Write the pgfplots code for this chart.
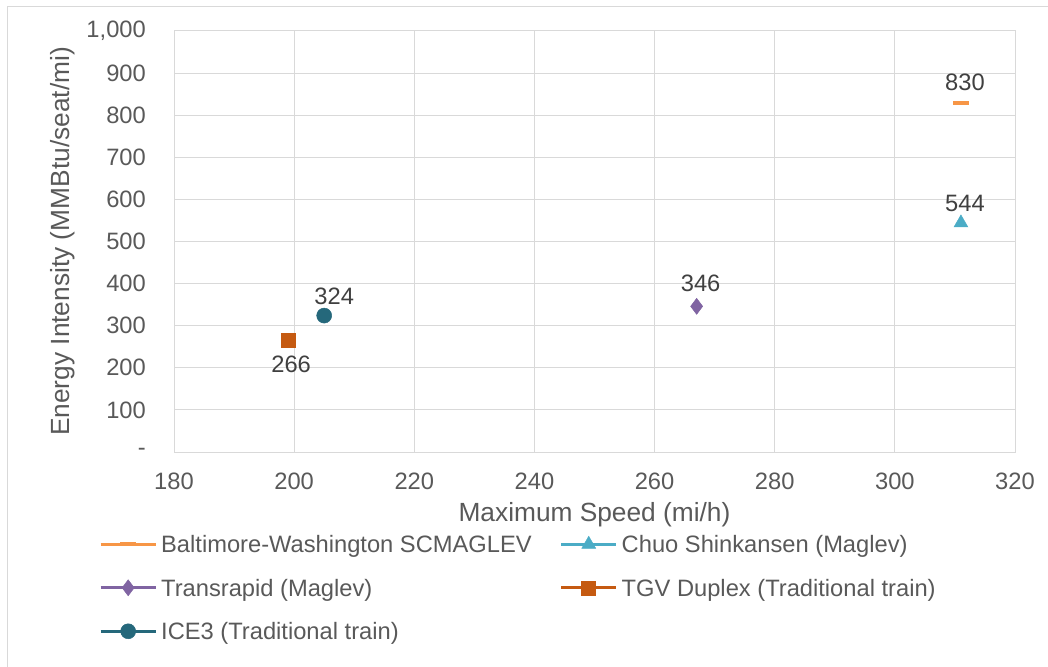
\documentclass[border=0pt]{standalone}
\usepackage{pgfplots}
\pgfplotsset{compat=1.18}
\usepackage{fontspec}
\setmainfont{Liberation Sans}
\definecolor{txt}{HTML}{595959}
\definecolor{lbl}{HTML}{404040}
\definecolor{gridc}{HTML}{D9D9D9}
\definecolor{cBW}{HTML}{F79646}
\definecolor{cCS}{HTML}{4BACC6}
\definecolor{cTR}{HTML}{8064A2}
\definecolor{cTGV}{HTML}{C55A11}
\definecolor{cICE}{HTML}{25687B}
\begin{document}
\begin{tikzpicture}
\useasboundingbox (0,0) rectangle (1048bp,667bp);
\draw[gridc, line width=1bp] (7bp,0) -- (7bp,660bp) -- (1048bp,660bp);
\begin{axis}[
  at={(174bp,215bp)}, anchor=south west,
  scale only axis, width=841bp, height=421bp,
  xmin=180, xmax=320, ymin=0, ymax=1000,
  xtick={180,200,...,320},
  ytick={0,100,...,1000},
  yticklabels={{-},100,200,300,400,500,600,700,800,900,{1,000}},
  /pgf/number format/assume math mode=true,
  /pgf/number format/1000 sep={},
  grid=major,
  major grid style={gridc, line width=1bp},
  axis line style={gridc, line width=1bp},
  major tick length=0pt,
  tick label style={font=\fontsize{23.7bp}{28bp}\selectfont, text=txt},
  yticklabel style={anchor=east, inner sep=0pt, xshift=-28bp},
  xticklabel style={anchor=north, inner sep=0pt, yshift=-20.5bp},
  xlabel={Maximum Speed (mi/h)},
  ylabel={Energy Intensity (MMBtu/seat/mi)},
  label style={font=\fontsize{26.3bp}{31bp}\selectfont, text=txt},
  xlabel style={at={(axis description cs:0.5,-0.1496)}, anchor=center, inner sep=0pt},
  ylabel style={at={(axis description cs:-0.1329,0.5)}, anchor=center, inner sep=0pt},
  nodes near coords,
  nodes near coords style={font=\fontsize{23.7bp}{28bp}\selectfont, text=lbl, anchor=center, inner sep=0pt, yshift=20bp, xshift=4bp},
  legend columns=2,
  legend cell align=left,
  legend style={at={(axis description cs:-0.0892,-0.1985)}, anchor=north west,
    draw=none, fill=none, inner sep=0pt, row sep=21.5bp,
    font=\fontsize{23.7bp}{28bp}\selectfont, text=txt,
    nodes={inner sep=0pt, text height=17bp, text depth=5bp},
    /tikz/every odd column/.append style={column sep=4bp},
    /tikz/every even column/.append style={column sep=28bp}},
  legend image code/.code={
    \draw[#1, line width=3bp, mark=none] (0bp,2.5bp) -- (55bp,2.5bp);
    \draw[#1] plot coordinates {(27.5bp,2.5bp)};
  },
]
\addplot[cBW, line width=0.5bp, mark=-, mark size=8bp, mark options={line width=4bp}] coordinates {(311,830)};
\addlegendentry{Baltimore-Washington SCMAGLEV}
\addplot[cCS, line width=0.5bp, mark=triangle*, mark size=8bp] coordinates {(311,544)};
\addlegendentry{Chuo Shinkansen (Maglev)}
\addplot[cTR, line width=0.5bp, mark=diamond*, mark size=8bp, nodes near coords style={yshift=3bp}] coordinates {(267,346)};
\addlegendentry{Transrapid (Maglev)}
\addplot[cTGV, line width=0.5bp, mark=square*, mark size=7bp, nodes near coords style={yshift=-44bp, xshift=-1bp}] coordinates {(199,266)};
\addlegendentry{TGV Duplex (Traditional train)}
\addplot[cICE, line width=0.5bp, mark=*, mark size=7.5bp, nodes near coords style={yshift=-1bp, xshift=6bp}] coordinates {(205,324)};
\addlegendentry{ICE3 (Traditional train)}
\end{axis}
\end{tikzpicture}
\end{document}
